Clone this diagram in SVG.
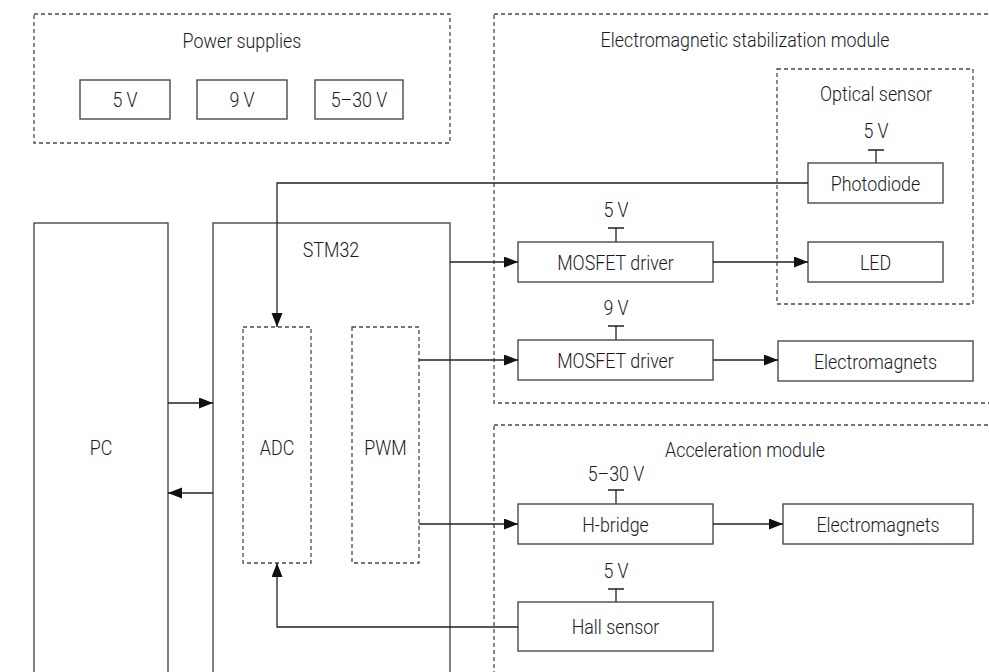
<svg xmlns="http://www.w3.org/2000/svg" width="989" height="672" viewBox="0 0 989 672">
<defs>
<style>
.box{fill:#fff;stroke:#4a4a4a;stroke-width:1.4}
.dash{fill:none;stroke:#4a4a4a;stroke-width:1.3;stroke-dasharray:4 3}
.ln{fill:none;stroke:#222;stroke-width:1.3}
.t{font-family:Roboto,"Liberation Sans",sans-serif;font-size:21px;font-weight:300;fill:#1a1a1a;text-anchor:middle}
</style>
<marker id="ah" markerUnits="userSpaceOnUse" markerWidth="15" markerHeight="12" refX="14" refY="5.5" orient="auto">
<path d="M0,0 L14,5.5 L0,11 z" fill="#111"/>
</marker>
</defs>
<rect width="989" height="672" fill="#fff"/>

<g id="power-supplies">
<rect class="dash" x="34" y="14" width="416" height="129"/>
<text class="t" transform="translate(242 48) scale(.85 1)">Power supplies</text>
<g id="ps-5v"><rect class="box" x="80" y="80" width="90" height="39"/><text class="t" transform="translate(125 107) scale(.85 1)">5 V</text></g>
<g id="ps-9v"><rect class="box" x="197" y="80" width="90" height="39"/><text class="t" transform="translate(242 107) scale(.85 1)">9 V</text></g>
<g id="ps-5-30v"><rect class="box" x="315" y="80" width="88" height="39"/><text class="t" transform="translate(359 107) scale(.85 1)">5–30 V</text></g>
</g>

<g id="em-module">
<rect class="dash" x="494" y="14" width="520" height="389"/>
<text class="t" transform="translate(745 47) scale(.85 1)">Electromagnetic stabilization module</text>
</g>

<g id="optical-sensor">
<rect class="dash" x="777" y="69" width="196" height="235"/>
<text class="t" transform="translate(876 101) scale(.85 1)">Optical sensor</text>
</g>

<g id="photodiode">
<text class="t" transform="translate(876 138) scale(.85 1)">5 V</text>
<path class="ln" d="M868 150H884M876 150V163"/>
<rect class="box" x="808" y="163" width="135" height="40"/>
<text class="t" transform="translate(875.5 191) scale(.85 1)">Photodiode</text>
</g>

<g id="led">
<rect class="box" x="808" y="242" width="135" height="40"/>
<text class="t" transform="translate(875.5 270) scale(.85 1)">LED</text>
</g>

<g id="mosfet-driver-1">
<text class="t" transform="translate(616 217) scale(.85 1)">5 V</text>
<path class="ln" d="M608 228H624M616 228V242"/>
<rect class="box" x="518" y="242" width="195" height="40"/>
<text class="t" transform="translate(615.5 270) scale(.85 1)">MOSFET driver</text>
</g>

<g id="mosfet-driver-2">
<text class="t" transform="translate(616 315) scale(.85 1)">9 V</text>
<path class="ln" d="M608 326H624M616 326V340"/>
<rect class="box" x="518" y="340" width="195" height="40"/>
<text class="t" transform="translate(615.5 368) scale(.85 1)">MOSFET driver</text>
</g>

<g id="electromagnets-1">
<rect class="box" x="778" y="341" width="195" height="40"/>
<text class="t" transform="translate(875.5 369) scale(.85 1)">Electromagnets</text>
</g>

<g id="acceleration-module">
<rect class="dash" x="494" y="425" width="520" height="270"/>
<text class="t" transform="translate(745 457) scale(.85 1)">Acceleration module</text>
</g>

<g id="h-bridge">
<text class="t" transform="translate(616 481) scale(.85 1)">5–30 V</text>
<path class="ln" d="M608 490H624M616 490V504"/>
<rect class="box" x="518" y="504" width="195" height="40"/>
<text class="t" transform="translate(615.5 532) scale(.85 1)">H-bridge</text>
</g>

<g id="electromagnets-2">
<rect class="box" x="783" y="504" width="190" height="40"/>
<text class="t" transform="translate(878 532) scale(.85 1)">Electromagnets</text>
</g>

<g id="hall-sensor">
<text class="t" transform="translate(616 578) scale(.85 1)">5 V</text>
<path class="ln" d="M608 589H624M616 589V602"/>
<rect class="box" x="518" y="602" width="195" height="49"/>
<text class="t" transform="translate(615.5 634) scale(.85 1)">Hall sensor</text>
</g>

<g id="pc">
<rect class="box" x="34" y="223" width="134" height="470"/>
<text class="t" transform="translate(101 455) scale(.85 1)">PC</text>
</g>

<g id="stm32">
<rect class="box" x="213" y="223" width="237" height="470"/>
<text class="t" transform="translate(331 257) scale(.85 1)">STM32</text>
</g>

<g id="adc">
<rect class="dash" x="243" y="327" width="68" height="236"/>
<text class="t" transform="translate(277 455) scale(.85 1)">ADC</text>
</g>

<g id="pwm">
<rect class="dash" x="352" y="327" width="67" height="236"/>
<text class="t" transform="translate(385.5 455) scale(.85 1)">PWM</text>
</g>

<g id="connectors">
<path class="ln" d="M168 403H213" marker-end="url(#ah)"/>
<path class="ln" d="M213 493H168" marker-end="url(#ah)"/>
<path class="ln" d="M808 183H277V327" marker-end="url(#ah)"/>
<path class="ln" d="M518 627H277V563" marker-end="url(#ah)"/>
<path class="ln" d="M450 262H518" marker-end="url(#ah)"/>
<path class="ln" d="M419 360H518" marker-end="url(#ah)"/>
<path class="ln" d="M419 524H518" marker-end="url(#ah)"/>
<path class="ln" d="M713 262H808" marker-end="url(#ah)"/>
<path class="ln" d="M713 360H778" marker-end="url(#ah)"/>
<path class="ln" d="M713 524H783" marker-end="url(#ah)"/>
</g>
</svg>
